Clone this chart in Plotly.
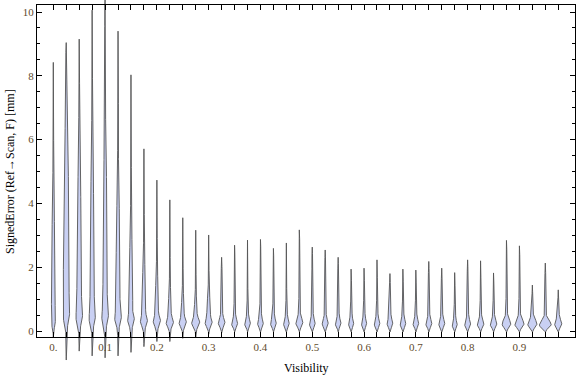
import numpy as np
import plotly.graph_objects as go

# ---------------- data ----------------
visibility = [0.0, 0.025, 0.05, 0.075, 0.1, 0.125, 0.15, 0.175, 0.2, 0.225,
              0.25, 0.275, 0.3, 0.325, 0.35, 0.375, 0.4, 0.425, 0.45, 0.475,
              0.5, 0.525, 0.55, 0.575, 0.6, 0.625, 0.65, 0.675, 0.7, 0.725,
              0.75, 0.775, 0.8, 0.825, 0.85, 0.875, 0.9, 0.925, 0.95, 0.975]
err_max = [8.42, 9.04, 9.15, 10.06, 10.40, 9.40, 8.03, 5.71, 4.73, 4.11,
           3.55, 3.16, 3.01, 2.31, 2.69, 2.85, 2.87, 2.59, 2.76, 3.17,
           2.63, 2.54, 2.31, 1.94, 1.97, 2.23, 1.80, 1.94, 1.91, 2.18,
           1.97, 1.83, 2.23, 2.20, 1.82, 2.84, 2.67, 1.44, 2.13, 1.29]
err_min = [-0.20, -0.91, -0.63, -0.78, -0.84, -0.78, -0.67, -0.49, -0.33, -0.33,
           -0.23, -0.20, -0.10, -0.05, -0.03, -0.03, -0.03, -0.03, -0.03, -0.03,
           -0.03, -0.03, -0.03, -0.03, -0.03, -0.03, -0.03, -0.03, -0.03, -0.03,
           -0.03, -0.03, -0.03, -0.03, -0.03, -0.03, -0.03, -0.03, -0.03, -0.03]
err_mode = [0.25, 0.50, 0.45, 0.40, 0.45, 0.40, 0.35, 0.30, 0.30, 0.25,
            0.25, 0.25, 0.25, 0.25, 0.22, 0.22, 0.22, 0.22, 0.22, 0.25,
            0.22, 0.22, 0.22, 0.22, 0.22, 0.22, 0.22, 0.22, 0.22, 0.22,
            0.22, 0.18, 0.20, 0.20, 0.20, 0.20, 0.20, 0.20, 0.18, 0.20]
err_spread = [0.25, 0.30, 0.28, 0.28, 0.28, 0.25, 0.22, 0.20, 0.18, 0.17,
              0.16, 0.16, 0.16, 0.15, 0.15, 0.15, 0.15, 0.15, 0.15, 0.16,
              0.15, 0.15, 0.15, 0.15, 0.15, 0.15, 0.15, 0.15, 0.15, 0.15,
              0.15, 0.14, 0.15, 0.15, 0.15, 0.16, 0.16, 0.16, 0.15, 0.15]
peak_density = [0.28, 0.50, 0.50, 0.47, 0.50, 0.50, 0.50, 0.53, 0.55, 0.55,
                0.55, 0.62, 0.53, 0.50, 0.45, 0.43, 0.42, 0.42, 0.42, 0.53,
                0.43, 0.45, 0.42, 0.38, 0.38, 0.42, 0.42, 0.42, 0.42, 0.45,
                0.45, 0.38, 0.45, 0.50, 0.50, 0.67, 0.72, 0.72, 0.95, 0.55]
body_density = [0.25, 0.42, 0.33, 0.30, 0.30, 0.27, 0.23, 0.22, 0.20, 0.18,
                0.18, 0.18, 0.25, 0.13, 0.12, 0.12, 0.12, 0.12, 0.12, 0.13,
                0.12, 0.12, 0.12, 0.12, 0.12, 0.12, 0.12, 0.12, 0.12, 0.12,
                0.12, 0.12, 0.12, 0.12, 0.12, 0.13, 0.13, 0.12, 0.13, 0.12]
body_top = [4.4, 7.2, 5.8, 5.8, 6.5, 5.0, 3.5, 2.5, 2.0, 1.5,
            1.3, 1.2, 1.3, 1.0, 0.9, 0.9, 0.9, 0.9, 0.9, 1.0,
            0.9, 0.9, 0.9, 0.9, 0.9, 0.9, 0.9, 0.9, 0.9, 0.9,
            0.9, 0.8, 0.9, 0.9, 0.9, 1.0, 1.0, 0.9, 1.0, 0.9]
x_tick_labels = ["0.", "0.1", "0.2", "0.3", "0.4", "0.5", "0.6", "0.7", "0.8", "0.9"]
y_tick_values = [0, 2, 4, 6, 8, 10]

# ---------------- geometry / style ----------------
W, H = 576, 377
PX_X0, PX_PER_X = 53.3, 517.9     # pixel of x=0, pixels per x unit
PX_Y0, PX_PER_Y = 331.0, 31.9     # pixel of y=0, pixels per y unit
FL, FR, FT, FB = 37, 575, 4.7, 337  # frame edges in pixels
MAX_HALF_PX = 6.0                  # half width (px) for density 1
TAIL_PX = 0.35
FILL = "#c9d0f3"
EDGE = "#555555"
TICKCOL = "#5e4a2c"
FONT = "Liberation Serif"

fig = go.Figure()

for i, xc in enumerate(visibility):
    lo, hi = err_min[i], err_max[i]
    m, s = err_mode[i], err_spread[i]
    y = np.linspace(lo, hi, 500)
    s_lo = max(m / 2.2, 0.05)
    sig = np.where(y > m, s, s_lo)
    bulge = peak_density[i] * np.exp(-0.5 * ((y - m) / sig) ** 2)
    bt = max(body_top[i] - m, 0.1)
    body_up = body_density[i] * np.exp(-2.0 * ((y - m) / bt) ** 4)
    body_dn = body_density[i] * np.exp(-0.5 * ((y - m) / s_lo) ** 2)
    body = np.where(y > m, body_up, body_dn)
    dens = np.maximum(bulge, body)
    taper = np.clip(np.minimum((y - lo) / 0.3, (hi - y) / 0.3), 0, 1)
    half_px = dens * MAX_HALF_PX + TAIL_PX * taper
    half = half_px / PX_PER_X
    xs = np.concatenate([xc + half, (xc - half)[::-1], [xc + half[0]]])
    ys = np.concatenate([y, y[::-1], [y[0]]])
    fig.add_trace(go.Scatter(x=xs, y=ys, mode="lines", fill="toself",
                             fillcolor=FILL, line=dict(color=EDGE, width=0.9),
                             hoverinfo="skip", showlegend=False))

# empty trace so the framed subplot is created
fig.add_trace(go.Scatter(x=[], y=[], xaxis="x2", yaxis="y2", showlegend=False))

x_full = [(0 - PX_X0) / PX_PER_X, (W - PX_X0) / PX_PER_X]
y_full = [(PX_Y0 - H) / PX_PER_Y, PX_Y0 / PX_PER_Y]
x_frame = [(FL - PX_X0) / PX_PER_X, (FR - PX_X0) / PX_PER_X]
y_frame = [(PX_Y0 - FB) / PX_PER_Y, (PX_Y0 - FT) / PX_PER_Y]

x_ticktext = [x_tick_labels[i // 4] if i % 4 == 0 else "" for i in range(len(visibility))]

fig.update_layout(
    width=W, height=H,
    margin=dict(l=0, r=0, t=0, b=0),
    paper_bgcolor="white", plot_bgcolor="rgba(0,0,0,0)",
    font=dict(family=FONT, size=11, color="black"),
    xaxis=dict(domain=[0, 1], range=x_full, visible=False, fixedrange=True),
    yaxis=dict(domain=[0, 1], range=y_full, visible=False, fixedrange=True),
    xaxis2=dict(domain=[FL / W, FR / W], range=x_frame, anchor="y2",
                showgrid=False, zeroline=False, showline=True, linecolor="black",
                linewidth=1, mirror="ticks", ticks="inside", ticklen=5,
                tickcolor="black", tickwidth=1,
                tickmode="array", tickvals=visibility, ticktext=x_ticktext,
                tickfont=dict(family=FONT, size=11, color=TICKCOL)),
    yaxis2=dict(domain=[(H - FB) / H, (H - FT) / H], range=y_frame, anchor="x2",
                showgrid=False, zeroline=False, showline=True, linecolor="black",
                linewidth=1, mirror="ticks", ticks="inside", ticklen=5,
                tickcolor="black", tickwidth=1,
                tickmode="array", tickvals=y_tick_values,
                ticktext=[str(v) for v in y_tick_values],
                minor=dict(dtick=0.5, ticks="inside", ticklen=3, tickcolor="black"),
                tickfont=dict(family=FONT, size=11, color=TICKCOL)),
    annotations=[
        dict(text="Visibility", x=(FL + FR) / 2 / W, y=(H - 368) / H,
             xref="paper", yref="paper", showarrow=False,
             xanchor="center", yanchor="middle",
             font=dict(family=FONT, size=12, color="black")),
        dict(text="SignedError (Ref→Scan, F) [mm]", x=10 / W, y=(H - 172) / H,
             xref="paper", yref="paper", showarrow=False, textangle=-90,
             xanchor="center", yanchor="middle",
             font=dict(family=FONT, size=12, color="black")),
    ],
)

fig.write_html("out.html", config={"displayModeBar": False},
               post_script="document.body.style.margin='0';document.body.style.overflow='hidden';")
